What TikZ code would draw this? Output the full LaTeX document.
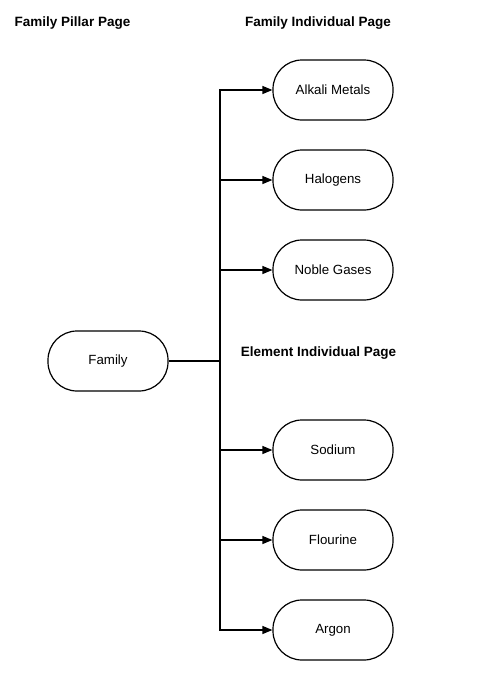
\documentclass[tikz,border=0pt]{standalone}
\usepackage{fontspec}
\setmainfont{Liberation Sans}
\usetikzlibrary{arrows.meta}
\begin{document}
\begin{tikzpicture}[x=1pt, y=-1pt,
    page/.style={draw, line width=1.2pt, rounded corners=29pt, minimum width=120pt, minimum height=60pt, font=\fontsize{13.3}{16}\selectfont},
    heading/.style={font=\bfseries\fontsize{13.5}{16}\selectfont},
    link/.style={line width=1.2pt, -{Triangle[length=10pt,width=8pt]}}]
        \useasboundingbox (0, 0) rectangle (482, 691);
        %headings
        \node[heading] (hpillar) at (72.5, 23) {Family Pillar Page};
        \node[heading] (hfamily) at (318, 23) {Family Individual Page};
        \node[heading] (helement) at (318.5, 353) {Element Individual Page};
        %pages
        \node[page] (family) at (108, 361) {Family};
        \node[page] (alkali) at (333, 90) {Alkali Metals};
        \node[page] (halogens) at (333, 180) {Halogens};
        \node[page] (noble) at (333, 270) {Noble Gases};
        \node[page] (sodium) at (333, 450) {Sodium};
        \node[page] (flourine) at (333, 540) {Flourine};
        \node[page] (argon) at (333, 630) {Argon};
        %links
        \coordinate (trunk) at (220, 361);
        \draw[line width=1.2pt] (family) -- (trunk);
        \foreach \n in {alkali, halogens, noble, sodium, flourine, argon}
            \draw[link] (trunk) |- (\n);
    \end{tikzpicture}
\end{document}
